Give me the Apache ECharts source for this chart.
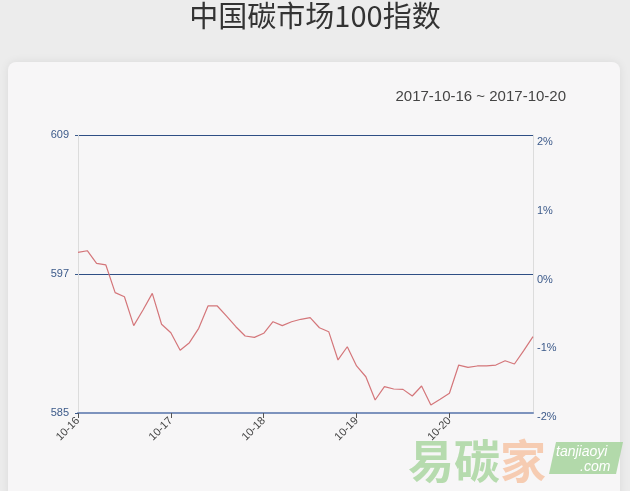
<!DOCTYPE html>
<html><head><meta charset="utf-8">
<style>html,body{margin:0;padding:0;background:#ececec;}#c{width:630px;height:491px;}</style>
<script src="https://cdn.jsdelivr.net/npm/echarts@6/dist/echarts.min.js"></script>
</head><body><div id="c"></div>
<script>
var title = '中国碳市场100指数';
var dateRange = '2017-10-16 ~ 2017-10-20';
var dayLabels = ['10-16','10-17','10-18','10-19','10-20'];
var pointsPerDay = 10;
var values = [
 598.87,599.01,597.92,597.78,595.39,595.04,592.54,593.89,595.33,592.66,
 591.93,590.41,591.07,592.31,594.24,594.24,593.37,592.45,591.65,591.53,
 591.88,592.88,592.54,592.88,593.09,593.23,592.36,592.02,589.58,590.72,
 589.06,588.13,586.12,587.27,587.07,587.04,586.47,587.33,585.69,586.18,
 586.70,589.14,588.94,589.06,589.06,589.14,589.51,589.23,590.38,591.59
];
var leftTicks = [585, 597, 609];
var rightTicks = [-2, -1, 0, 1, 2];

var categories = values.map(function(v, i){
  return (i % pointsPerDay === 0) ? dayLabels[i / pointsPerDay] : ('p' + i);
});

var chart = echarts.init(document.getElementById('c'));
chart.setOption({
  backgroundColor: '#ececec',
  animation: false,
  graphic: [
    {type:'rect', z:-10, shape:{x:8,y:62,width:612,height:440,r:8},
     style:{fill:'#f7f6f7', shadowBlur:10, shadowColor:'rgba(0,0,0,0.08)'}},
    {type:'text', left:'center', top:1, style:{text:title, font:'29px "Noto Sans CJK SC"', fill:'#333'}},
    {type:'text', right:64, top:89, style:{text:dateRange, font:'15px "Liberation Sans", Arial', fill:'#444'}},
    {type:'text', x:408, y:438, z:20, style:{text:'易碳', font:'bold 46px "Noto Sans CJK SC"', fill:'rgba(160,210,150,0.75)'}},
    {type:'text', x:500, y:438, z:20, style:{text:'家', font:'bold 46px "Noto Sans CJK SC"', fill:'rgba(245,190,155,0.75)'}},
    {type:'polygon', z:20, shape:{points:[[556,442],[623,442],[616,474],[549,474]]}, style:{fill:'rgba(160,210,150,0.8)'}},
    {type:'text', x:556, y:445, z:21, style:{text:'tanjiaoyi', font:'italic 14px "Liberation Sans"', fill:'#fff'}},
    {type:'text', x:580, y:460, z:21, style:{text:'.com', font:'italic 14px "Liberation Sans"', fill:'#fff'}}
  ],
  grid: [
    {left:78, right:97, top:135, bottom:78, show:false},
    {left:78, right:97, top:142, bottom:74, show:false}
  ],
  xAxis: [
    {type:'category', gridIndex:0, data:categories, boundaryGap:false,
     axisLine:{lineStyle:{color:'#7d93bd', width:2}},
     axisTick:{show:true, length:5, interval:function(i){return i % pointsPerDay === 0;}, lineStyle:{color:'#555'}},
     axisLabel:{rotate:45, interval:function(i){return i % pointsPerDay === 0;}, color:'#444', fontSize:11, margin:6},
     splitLine:{show:false}},
    {type:'category', gridIndex:1, data:categories, show:false}
  ],
  yAxis: [
    {type:'value', gridIndex:0, min:585, max:609, interval:12, position:'left',
     axisLine:{show:true, lineStyle:{color:'#dcdcdc'}},
     axisTick:{show:true, length:3, lineStyle:{color:'#3c5a8a'}},
     axisLabel:{color:'#3c5a8a', fontSize:11, margin:9},
     splitLine:{show:true, lineStyle:{color:'#2f4f85', width:1}}},
    {type:'value', gridIndex:0, min:585, max:609, interval:12, position:'right',
     axisLine:{show:true, lineStyle:{color:'#dcdcdc'}},
     axisTick:{show:false}, axisLabel:{show:false}, splitLine:{show:false}},
    {type:'value', gridIndex:1, min:-2, max:2, interval:1, position:'right',
     axisLine:{show:false}, axisTick:{show:false}, splitLine:{show:false},
     axisLabel:{color:'#3c5a8a', fontSize:11, margin:4, formatter:function(v){return v + '%';}}}
  ],
  series: [
    {type:'line', xAxisIndex:0, yAxisIndex:0, data:values, showSymbol:false,
     lineStyle:{color:'#d4767a', width:1.2}}
  ]
});
</script></body></html>
